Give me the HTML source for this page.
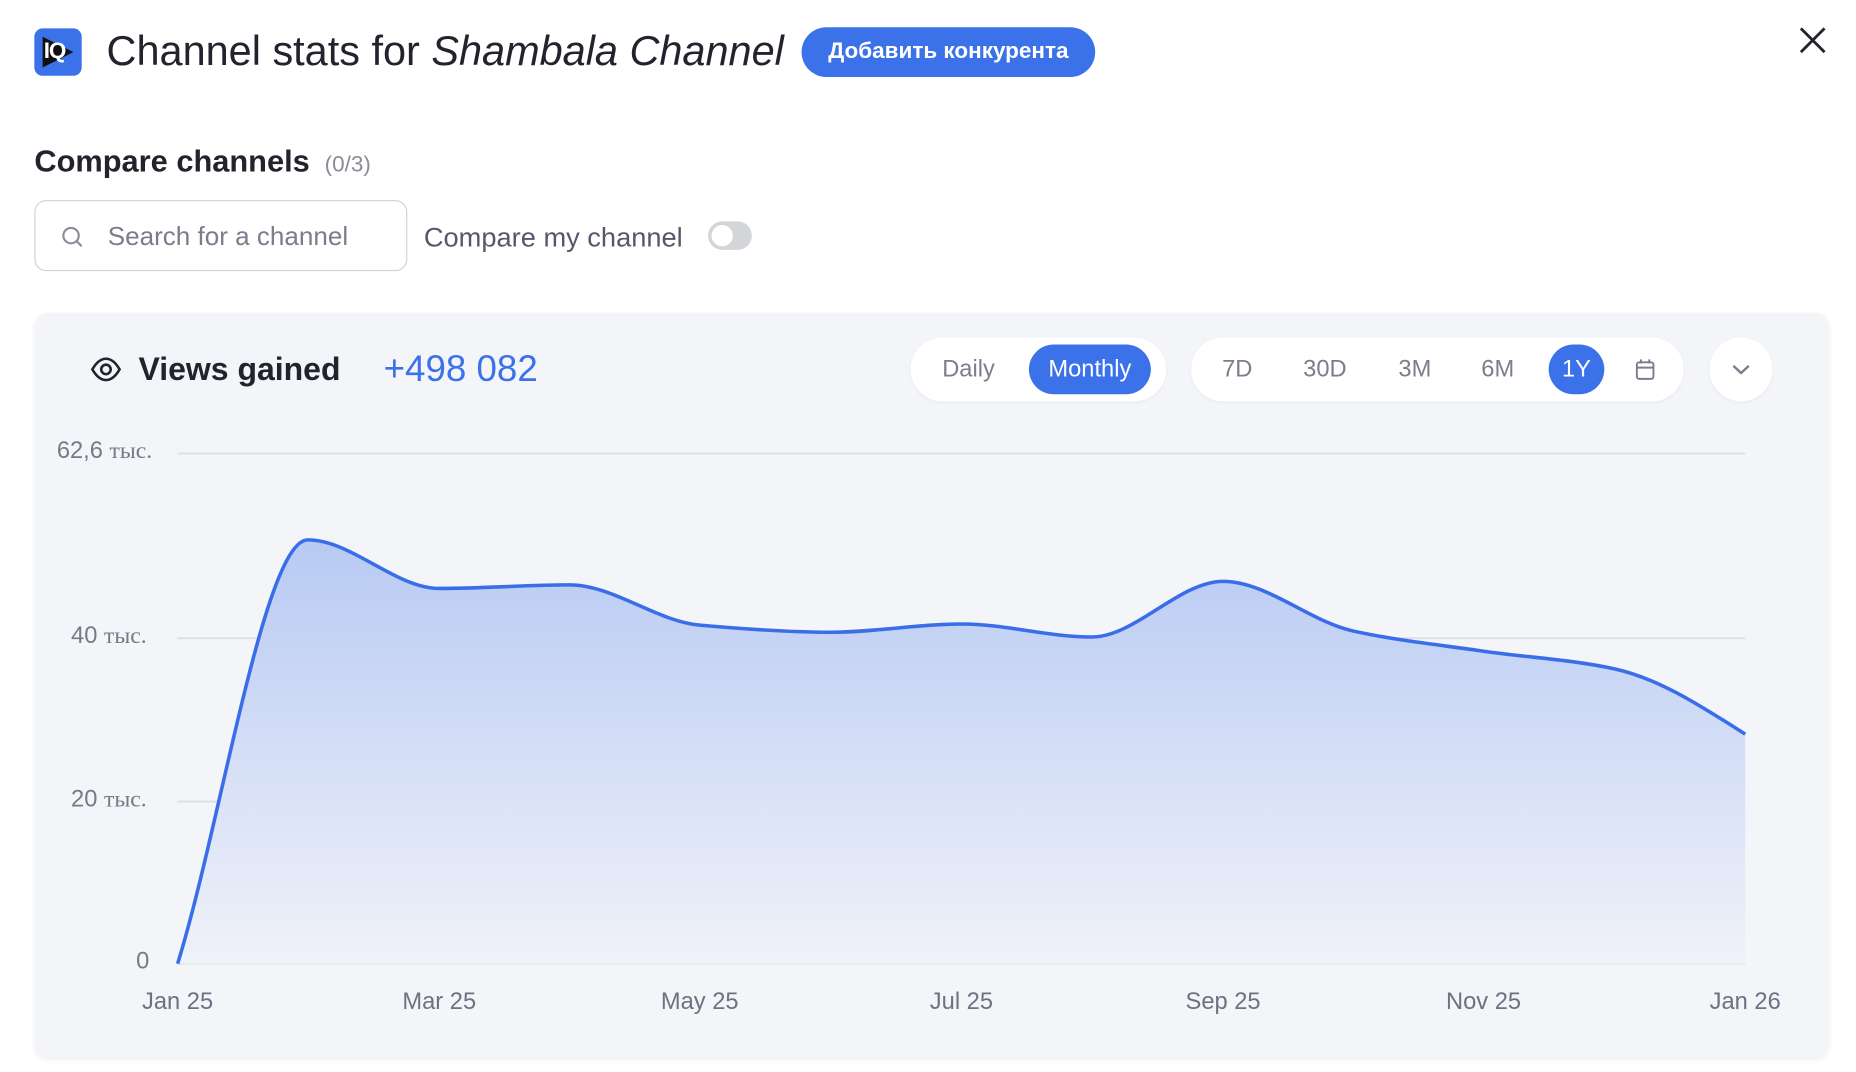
<!DOCTYPE html>
<html><head><meta charset="utf-8"><style>
html,body{margin:0;padding:0;background:#fff;width:1856px;height:1070px;overflow:hidden}
#s{position:absolute;left:0;top:0;width:1570px;height:905px;transform:scale(1.184);transform-origin:0 0;font-family:"Liberation Sans","DejaVu Sans",sans-serif;color:#23232d}
.a{position:absolute;white-space:nowrap}
.pill{position:absolute;background:#fff;border-radius:27px;box-shadow:0 1px 3px rgba(0,0,0,.05)}
.t{position:absolute;top:0;height:54px;line-height:54px;font-size:20px;color:#7a7d8c;transform:translateX(-50%)}
</style></head><body><div id="s">
<div class="a" style="left:29px;top:24px;width:40px;height:40px;background:#3b72ea;border-radius:7px"></div>
<div class="a" style="left:36px;top:31px;width:0;height:0;border-top:13px solid transparent;border-bottom:13px solid transparent;border-left:26px solid #111"></div>
<div class="a" style="left:37px;top:33px;font-size:19px;font-weight:bold;color:#fff;letter-spacing:-1px">IQ</div>
<div class="a" style="left:90px;top:23px;font-size:35px;line-height:42px">Channel stats for <i>Shambala Channel</i></div>
<div class="a" style="left:677px;top:23px;width:248px;height:42px;background:#3b72ea;border-radius:21px;color:#fff;font-weight:bold;font-size:19px;line-height:42px;text-align:center">Добавить конкурента</div>
<svg class="a" style="left:1519px;top:22px" width="24" height="24"><path d="M2 2L22 22M22 2L2 22" stroke="#23232d" stroke-width="2.4"/></svg>
<div class="a" style="left:29px;top:120px;font-size:26px;line-height:32px;font-weight:bold">Compare channels <span style="font-size:19px;color:#8a8c98;font-weight:normal">&nbsp;(0/3)</span></div>
<div class="a" style="left:29px;top:169px;width:313px;height:58px;border:1.5px solid #cfd1da;border-radius:10px"></div>
<svg class="a" style="left:51px;top:190px" width="20" height="20"><circle cx="9" cy="9" r="6.5" fill="none" stroke="#8a8c98" stroke-width="1.8"/><path d="M14 14L18 18" stroke="#8a8c98" stroke-width="1.8"/></svg>
<div class="a" style="left:91px;top:186px;font-size:22px;line-height:28px;color:#7a7d8c">Search for a channel</div>
<div class="a" style="left:358px;top:186px;font-size:23px;line-height:28px;color:#55586a">Compare my channel</div>
<div class="a" style="left:598px;top:187px;width:37px;height:24px;background:#d4d5d9;border-radius:12px"></div>
<div class="a" style="left:601px;top:190px;width:18px;height:18px;background:#fff;border-radius:50%"></div>
<div class="a" style="left:29px;top:264px;width:1516px;height:629px;background:#f3f5f9;border-radius:12px;box-shadow:0 2px 4px rgba(0,0,0,.06);overflow:hidden">
<svg class="a" style="left:0;top:0" width="1516" height="629">
<defs><linearGradient id="g" x1="0" y1="0" x2="0" y2="1"><stop offset="0" stop-color="#b8caf3"/><stop offset="1" stop-color="#f0f2f9"/></linearGradient></defs>
<g transform="translate(-29,-264)">
<g stroke="#dcdee5" stroke-width="1.5"><line x1="150" y1="383" x2="1474" y2="383"/><line x1="150" y1="539" x2="1474" y2="539"/><line x1="150" y1="677" x2="1474" y2="677"/><line x1="150" y1="814" x2="1474" y2="814"/></g>
<path d="M150,814 C186.8,695 223.5,456 260,456 C296.8,456 334.2,497 371,497 C407.8,497 444.2,494 481,494 C517.8,494 554.2,524.7 591,528 C627.8,531.3 665.2,534 702,534 C738.8,534 775.2,527 812,527 C848.8,527 885.2,538 922,538 C958.8,538 996.2,491 1033,491 C1069.8,491 1106.2,525 1143,533 C1179.8,541 1216.2,544.7 1253,550 C1289.8,555.3 1327.2,557 1364,565 C1400.8,573 1437.2,596.7 1474,620 L1474,814 Z" fill="url(#g)"/>
<path d="M150,814 C186.8,695 223.5,456 260,456 C296.8,456 334.2,497 371,497 C407.8,497 444.2,494 481,494 C517.8,494 554.2,524.7 591,528 C627.8,531.3 665.2,534 702,534 C738.8,534 775.2,527 812,527 C848.8,527 885.2,538 922,538 C958.8,538 996.2,491 1033,491 C1069.8,491 1106.2,525 1143,533 C1179.8,541 1216.2,544.7 1253,550 C1289.8,555.3 1327.2,557 1364,565 C1400.8,573 1437.2,596.7 1474,620" fill="none" stroke="#3a6ee8" stroke-width="3"/>
</g></svg>
<div class="a" style="left:19px;top:106px;font-size:20px;color:#777a86">62,6 <span style="font-family:'Liberation Serif',serif">тыс.</span></div>
<div class="a" style="left:31px;top:262px;font-size:20px;color:#777a86">40 <span style="font-family:'Liberation Serif',serif">тыс.</span></div>
<div class="a" style="left:31px;top:400px;font-size:20px;color:#777a86">20 <span style="font-family:'Liberation Serif',serif">тыс.</span></div>
<div class="a" style="left:86px;top:537px;font-size:20px;color:#777a86">0</div>
<div class="a" style="top:571px;left:0;width:1516px;font-size:20px;color:#6e7180">
<span class="a" style="left:121px;transform:translateX(-50%)">Jan 25</span><span class="a" style="left:342px;transform:translateX(-50%)">Mar 25</span><span class="a" style="left:562px;transform:translateX(-50%)">May 25</span><span class="a" style="left:783px;transform:translateX(-50%)">Jul 25</span><span class="a" style="left:1004px;transform:translateX(-50%)">Sep 25</span><span class="a" style="left:1224px;transform:translateX(-50%)">Nov 25</span><span class="a" style="left:1445px;transform:translateX(-50%)">Jan 26</span></div>
</div>
<svg class="a" style="left:76px;top:301px" width="27" height="22"><path d="M2 11C6 4 10 2 13.5 2S21 4 25 11C21 18 17 20 13.5 20S6 18 2 11Z" fill="none" stroke="#23232d" stroke-width="2.2"/><circle cx="13.5" cy="11" r="4" fill="none" stroke="#23232d" stroke-width="2.2"/></svg>
<div class="a" style="left:117px;top:295px;font-size:27px;line-height:34px;font-weight:bold">Views gained</div>
<div class="a" style="left:324px;top:293px;font-size:31px;line-height:38px;color:#3b72ea">+498 082</div>
<div class="pill" style="left:769px;top:285px;width:216px;height:54px">
<span class="t" style="left:49px">Daily</span>
<div class="a" style="left:100px;top:6px;width:103px;height:42px;background:#3b72ea;border-radius:21px;color:#fff;font-size:20px;line-height:42px;text-align:center">Monthly</div></div>
<div class="pill" style="left:1006px;top:285px;width:416px;height:54px">
<span class="t" style="left:39px">7D</span><span class="t" style="left:113px">30D</span><span class="t" style="left:189px">3M</span><span class="t" style="left:259px">6M</span>
<div class="a" style="left:302px;top:6px;width:47px;height:42px;background:#3b72ea;border-radius:21px;color:#fff;font-size:20px;line-height:42px;text-align:center">1Y</div>
<svg class="a" style="left:375px;top:17px" width="17" height="20"><rect x="1.5" y="4" width="14" height="14" rx="2" fill="none" stroke="#7a7d8c" stroke-width="1.6"/><path d="M1.5 8.5H15.5M5 1.5V5M12 1.5V5" stroke="#7a7d8c" stroke-width="1.6"/></svg></div>
<div class="pill" style="left:1444px;top:285px;width:53px;height:54px">
<svg class="a" style="left:18px;top:21px" width="17" height="12"><path d="M2 3L8.5 9L15 3" fill="none" stroke="#7a7d8c" stroke-width="2"/></svg></div>
</div></body></html>
